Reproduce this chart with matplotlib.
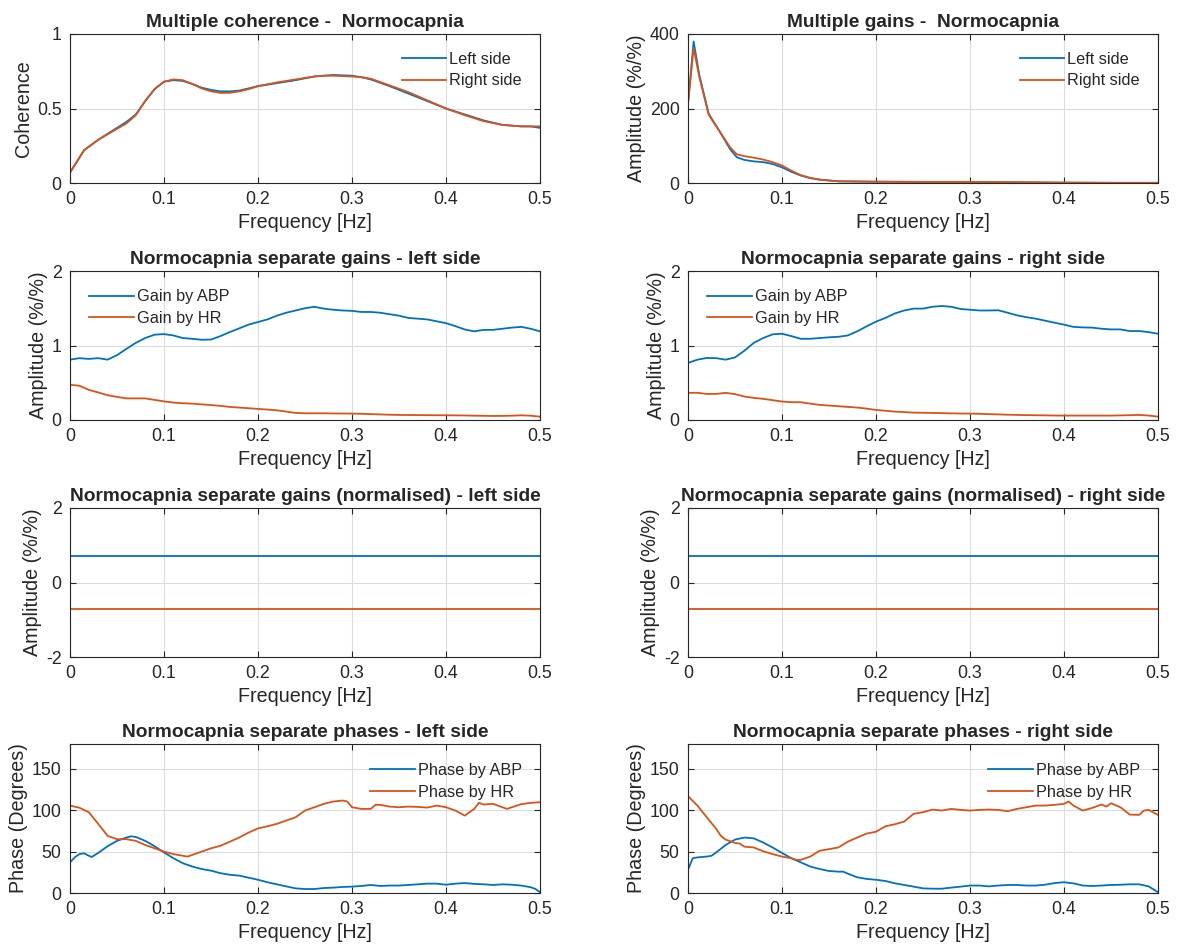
import matplotlib
matplotlib.use('Agg')
import matplotlib.pyplot as plt

# ---- data ----
coh_f = [0, 0.015, 0.03, 0.045, 0.06, 0.07, 0.08, 0.09, 0.1, 0.11, 0.12, 0.13, 0.14, 0.15, 0.16, 0.17,
         0.18, 0.19, 0.2, 0.22, 0.24, 0.26, 0.27, 0.28, 0.3, 0.31, 0.32, 0.34, 0.36, 0.38, 0.4, 0.42,
         0.44, 0.46, 0.48, 0.49, 0.5]
coh_left = [0.07, 0.22, 0.29, 0.35, 0.41, 0.46, 0.55, 0.63, 0.68, 0.69, 0.685, 0.665, 0.64, 0.625, 0.615,
            0.615, 0.62, 0.635, 0.65, 0.67, 0.69, 0.715, 0.72, 0.725, 0.72, 0.71, 0.695, 0.65, 0.60, 0.55,
            0.50, 0.46, 0.42, 0.39, 0.38, 0.38, 0.37]
coh_right = [0.07, 0.22, 0.29, 0.345, 0.40, 0.455, 0.55, 0.63, 0.68, 0.695, 0.69, 0.665, 0.635, 0.615,
             0.605, 0.605, 0.615, 0.63, 0.65, 0.675, 0.695, 0.715, 0.72, 0.72, 0.715, 0.71, 0.70, 0.655,
             0.61, 0.555, 0.50, 0.455, 0.415, 0.39, 0.38, 0.38, 0.38]

mg_f = [0, 0.006, 0.012, 0.022, 0.034, 0.045, 0.052, 0.06, 0.07, 0.08, 0.09, 0.1, 0.11, 0.12, 0.13,
        0.14, 0.16, 0.2, 0.25, 0.3, 0.35, 0.4, 0.45, 0.5]
mg_left = [213, 380, 290, 186, 137, 90, 69, 62, 58, 56, 51, 42, 30, 20, 13, 9, 4.5, 3.5, 3, 3, 2, 1, 0.5, 0.5]
mg_right = [213, 362, 285, 183, 137, 95, 77, 72, 68, 63, 56, 47, 33, 21, 14, 9, 4.5, 3.5, 3, 3, 2, 1, 0.5, 0.5]

g_f = [0, 0.01, 0.02, 0.03, 0.04, 0.05, 0.06, 0.07, 0.08, 0.09, 0.1, 0.11, 0.12, 0.13, 0.14, 0.15,
       0.16, 0.17, 0.18, 0.19, 0.2, 0.21, 0.22, 0.23, 0.24, 0.25, 0.26, 0.27, 0.28, 0.29, 0.3, 0.31,
       0.32, 0.33, 0.34, 0.35, 0.36, 0.37, 0.38, 0.39, 0.4, 0.41, 0.42, 0.43, 0.44, 0.45, 0.46, 0.47,
       0.48, 0.49, 0.5]
gain_abp_left = [0.81, 0.83, 0.82, 0.83, 0.81, 0.87, 0.955, 1.035, 1.10, 1.145, 1.153, 1.135, 1.10, 1.09,
                 1.077, 1.08, 1.126, 1.18, 1.23, 1.28, 1.315, 1.35, 1.40, 1.44, 1.47, 1.50, 1.52, 1.495,
                 1.48, 1.47, 1.465, 1.45, 1.45, 1.44, 1.42, 1.40, 1.37, 1.36, 1.35, 1.325, 1.30, 1.26,
                 1.215, 1.19, 1.21, 1.21, 1.225, 1.24, 1.25, 1.225, 1.19]
gain_hr_left = [0.473, 0.46, 0.405, 0.37, 0.333, 0.31, 0.29, 0.29, 0.29, 0.27, 0.25, 0.234, 0.225, 0.22,
                0.21, 0.20, 0.19, 0.175, 0.167, 0.158, 0.149, 0.14, 0.13, 0.113, 0.095, 0.09, 0.09, 0.09,
                0.088, 0.087, 0.086, 0.083, 0.079, 0.075, 0.071, 0.068, 0.067, 0.066, 0.065, 0.064, 0.063,
                0.062, 0.061, 0.058, 0.056, 0.054, 0.055, 0.058, 0.063, 0.058, 0.045]
gain_abp_right = [0.766, 0.81, 0.833, 0.83, 0.81, 0.84, 0.93, 1.035, 1.10, 1.15, 1.158, 1.126, 1.09, 1.09,
                  1.10, 1.11, 1.117, 1.135, 1.19, 1.257, 1.32, 1.37, 1.43, 1.47, 1.495, 1.495, 1.52, 1.53,
                  1.52, 1.49, 1.48, 1.47, 1.47, 1.473, 1.44, 1.405, 1.38, 1.36, 1.333, 1.306, 1.28, 1.25,
                  1.243, 1.24, 1.225, 1.216, 1.216, 1.194, 1.194, 1.18, 1.158]
gain_hr_right = [0.365, 0.365, 0.35, 0.35, 0.365, 0.347, 0.315, 0.297, 0.284, 0.266, 0.248, 0.239, 0.239,
                 0.22, 0.203, 0.194, 0.185, 0.176, 0.167, 0.153, 0.135, 0.124, 0.113, 0.106, 0.099, 0.097,
                 0.095, 0.092, 0.089, 0.087, 0.086, 0.083, 0.079, 0.075, 0.071, 0.068, 0.066, 0.064, 0.062,
                 0.060, 0.059, 0.059, 0.059, 0.059, 0.059, 0.059, 0.062, 0.065, 0.068, 0.060, 0.045]

norm_f = [0, 0.5]
norm_abp = [0.707, 0.707]
norm_hr = [-0.707, -0.707]

ph_f_left = [0, 0.005, 0.01, 0.015, 0.02, 0.023, 0.03, 0.04, 0.05, 0.06, 0.065, 0.07, 0.08, 0.09, 0.1,
             0.11, 0.12, 0.13, 0.14, 0.15, 0.16, 0.17, 0.18, 0.19, 0.2, 0.21, 0.22, 0.23, 0.24, 0.25,
             0.26, 0.27, 0.28, 0.29, 0.3, 0.31, 0.32, 0.33, 0.34, 0.35, 0.36, 0.37, 0.38, 0.39, 0.4,
             0.41, 0.42, 0.43, 0.44, 0.45, 0.46, 0.47, 0.48, 0.49, 0.495, 0.5]
phase_abp_left = [37, 43, 47, 48, 45, 43.5, 48.4, 56.5, 63, 67, 68.5, 67.7, 63, 56.5, 49, 42, 36, 32, 29,
                  27, 24, 22, 21, 18.5, 16, 13, 10.5, 8, 5.6, 4.8, 4.8, 6, 6.5, 7.3, 7.7, 8.5, 9.7, 8.5,
                  9, 9, 9.7, 10.5, 11.3, 11.3, 10, 11.3, 12, 11, 10.5, 9.7, 10.5, 10, 9, 7, 5, 1]
ph_f_left_hr = [0, 0.01, 0.02, 0.03, 0.04, 0.05, 0.06, 0.07, 0.08, 0.09, 0.1, 0.11, 0.12, 0.125, 0.13,
                0.14, 0.15, 0.16, 0.17, 0.18, 0.19, 0.2, 0.21, 0.22, 0.23, 0.24, 0.25, 0.26, 0.27, 0.28,
                0.29, 0.295, 0.3, 0.31, 0.32, 0.325, 0.33, 0.34, 0.35, 0.36, 0.37, 0.38, 0.39, 0.4, 0.41,
                0.42, 0.43, 0.435, 0.44, 0.45, 0.46, 0.465, 0.47, 0.48, 0.49, 0.5]
phase_hr_left = [105.6, 103, 97.6, 83.5, 69, 65, 65, 63, 58, 54, 50, 47, 45, 44, 46, 50, 54, 57, 62, 67,
                 73, 78, 80.6, 83.5, 87.5, 91.5, 99.6, 103.6, 107.7, 110.5, 111.7, 110.5, 103.6, 101.6,
                 101.6, 106.5, 106.5, 104.4, 103.6, 104.4, 104, 103.2, 105.6, 103.6, 99.6, 93.5, 101.6,
                 108.9, 106.9, 107.7, 103.6, 101.6, 103.6, 107.3, 108.9, 109.7]

ph_f_right = [0, 0.005, 0.01, 0.02, 0.025, 0.03, 0.04, 0.05, 0.06, 0.07, 0.08, 0.09, 0.1, 0.11, 0.12,
              0.13, 0.14, 0.15, 0.16, 0.165, 0.17, 0.18, 0.19, 0.2, 0.21, 0.22, 0.23, 0.24, 0.25, 0.26,
              0.27, 0.28, 0.29, 0.3, 0.31, 0.32, 0.33, 0.34, 0.35, 0.36, 0.37, 0.38, 0.39, 0.4, 0.41,
              0.42, 0.43, 0.44, 0.45, 0.46, 0.47, 0.48, 0.49, 0.5]
phase_abp_right = [28, 42, 43, 44, 45, 49, 58, 64.5, 67, 66, 61, 55, 48.4, 42, 37, 32, 29, 26.6, 25.8,
                   25.8, 23.4, 19, 17, 16, 14.5, 11.7, 9.7, 7.7, 5.6, 5.2, 5.2, 6.5, 7.7, 9, 9, 8, 9, 9.7,
                   9.7, 9, 9, 10, 12, 13, 11.7, 9, 8.5, 9, 9.7, 10, 10.5, 10.5, 8, 1]
ph_f_right_hr = [0, 0.01, 0.02, 0.03, 0.035, 0.04, 0.05, 0.055, 0.06, 0.07, 0.08, 0.09, 0.1, 0.11, 0.115,
                 0.12, 0.13, 0.14, 0.15, 0.16, 0.17, 0.18, 0.19, 0.2, 0.21, 0.22, 0.23, 0.24, 0.25, 0.26,
                 0.27, 0.28, 0.29, 0.3, 0.31, 0.32, 0.33, 0.34, 0.35, 0.36, 0.37, 0.38, 0.39, 0.4, 0.405,
                 0.41, 0.42, 0.43, 0.44, 0.445, 0.45, 0.46, 0.47, 0.48, 0.485, 0.49, 0.5]
phase_hr_right = [117, 105.6, 91.5, 77.4, 69, 64.5, 60.5, 59.7, 56, 55, 50.4, 47, 44, 42, 40, 40, 44, 51,
                  53, 55, 62, 67, 71.8, 74, 80.6, 83, 86.3, 95.6, 97.6, 100.8, 99.6, 101.6, 100.4, 99.6,
                  100.4, 100.8, 100.4, 98.8, 101.6, 103.6, 105.6, 105.6, 106.5, 107.7, 110.5, 105.6, 99.6,
                  102.8, 106.9, 104.4, 108.4, 103.6, 94.7, 94.4, 99.6, 100.4, 94.4]

BLUE = '#0072BD'
ORANGE = '#D95319'
TXT = '#262626'

plt.rcParams['font.family'] = ['Liberation Sans', 'DejaVu Sans']
plt.rcParams['axes.unicode_minus'] = False
plt.rcParams['text.color'] = TXT
plt.rcParams['axes.labelcolor'] = TXT
plt.rcParams['xtick.color'] = TXT
plt.rcParams['ytick.color'] = TXT

fig = plt.figure(figsize=(11.87, 9.52), dpi=100)

lefts = [70 / 1187, 688 / 1187]
width = 470 / 1187
bottoms = [1 - 183 / 952, 1 - 420 / 952, 1 - 657 / 952, 1 - 893 / 952]
height = 149 / 952

LEG = dict(frameon=False, fontsize=11.7, handlelength=2.75, handletextpad=0.2, labelspacing=0.42)


def style(ax, title, ylabel, ylim, yticks):
    ax.set_xlim(0, 0.5)
    ax.set_ylim(*ylim)
    ax.set_xticks([0, 0.1, 0.2, 0.3, 0.4, 0.5])
    ax.set_xticklabels(['0', '0.1', '0.2', '0.3', '0.4', '0.5'])
    ax.set_yticks(yticks)
    ax.grid(True, color='#dcdcdc', linewidth=0.8)
    ax.set_axisbelow(True)
    ax.tick_params(direction='in', top=True, right=True, labelsize=12.8, length=4, width=0.8, pad=6)
    for s in ax.spines.values():
        s.set_color(TXT)
        s.set_linewidth(0.8)
    ax.set_title(title, fontsize=13.8, fontweight='bold', pad=5)
    ax.set_xlabel('Frequency [Hz]', fontsize=14.2, labelpad=3)
    ax.set_ylabel(ylabel, fontsize=14.2, labelpad=3)


def add_ax(row, col):
    return fig.add_axes([lefts[col], bottoms[row], width, height])


# row 1
ax = add_ax(0, 0)
ax.plot(coh_f, coh_left, color=BLUE, lw=1.3, label='Left side')
ax.plot(coh_f, coh_right, color=ORANGE, lw=1.3, label='Right side')
style(ax, 'Multiple coherence -  Normocapnia', 'Coherence', (0, 1), [0, 0.5, 1])
ax.set_yticklabels(['0', '0.5', '1'])
ax.legend(loc='upper right', bbox_to_anchor=(0.993, 0.98), **LEG)

ax = add_ax(0, 1)
ax.plot(mg_f, mg_left, color=BLUE, lw=1.3, label='Left side')
ax.plot(mg_f, mg_right, color=ORANGE, lw=1.3, label='Right side')
style(ax, 'Multiple gains -  Normocapnia', 'Amplitude (%/%)', (0, 400), [0, 200, 400])
ax.legend(loc='upper right', bbox_to_anchor=(0.993, 0.98), **LEG)

# row 2
for col, abp, hr, side in [(0, gain_abp_left, gain_hr_left, 'left'),
                           (1, gain_abp_right, gain_hr_right, 'right')]:
    ax = add_ax(1, col)
    ax.plot(g_f, abp, color=BLUE, lw=1.3, label='Gain by ABP')
    ax.plot(g_f, hr, color=ORANGE, lw=1.3, label='Gain by HR')
    style(ax, 'Normocapnia separate gains - %s side' % side, 'Amplitude (%/%)', (0, 2), [0, 1, 2])
    ax.legend(loc='upper left', bbox_to_anchor=(0.01, 0.975), **LEG)

# row 3
for col, side in [(0, 'left'), (1, 'right')]:
    ax = add_ax(2, col)
    ax.plot(norm_f, norm_abp, color=BLUE, lw=1.3)
    ax.plot(norm_f, norm_hr, color=ORANGE, lw=1.3)
    style(ax, 'Normocapnia separate gains (normalised) - %s side' % side, 'Amplitude (%/%)',
          (-2, 2), [-2, 0, 2])

# row 4
for col, fa, abp, fh, hr, side in [(0, ph_f_left, phase_abp_left, ph_f_left_hr, phase_hr_left, 'left'),
                                   (1, ph_f_right, phase_abp_right, ph_f_right_hr, phase_hr_right, 'right')]:
    ax = add_ax(3, col)
    ax.plot(fa, abp, color=BLUE, lw=1.3, label='Phase by ABP')
    ax.plot(fh, hr, color=ORANGE, lw=1.3, label='Phase by HR')
    style(ax, 'Normocapnia separate phases - %s side' % side, 'Phase (Degrees)', (0, 180), [0, 50, 100, 150])
    ax.legend(loc='upper right', bbox_to_anchor=(0.993, 0.97), **LEG)

fig.savefig('out.png', dpi=100)
